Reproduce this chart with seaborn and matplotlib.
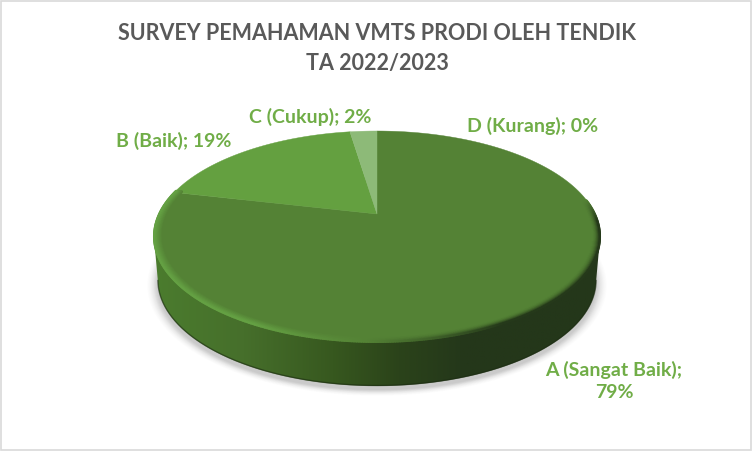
import numpy as np
import matplotlib
matplotlib.use("Agg")
import matplotlib.pyplot as plt
import seaborn as sns
from matplotlib.collections import LineCollection
from matplotlib.colors import LinearSegmentedColormap, to_rgb
from matplotlib.patches import Polygon, Rectangle

# values
categories = ["A (Sangat Baik)", "B (Baik)", "C (Cukup)", "D (Kurang)"]
values = [78.6, 19.0, 2.4, 0.0]
title_lines = ["SURVEY PEMAHAMAN VMTS PRODI OLEH TENDIK", "TA 2022/2023"]

sns.set_theme(style="white")
plt.rcParams["font.family"] = ["Lato", "DejaVu Sans"]

slice_colors = sns.color_palette(["#548235", "#64A040", "#8DBA78", "#B5D3A5"])
label_color = "#70AD47"
title_color = "#595959"

# pie is tilted in perspective, pixel numbers measured on the reference
cx, cy = 377, 214
a, b, k = 218, 100.7, 0.2133
depth = 44


def project(x, y, shift=0.0, squeeze=1.0):
    w = 1 + k * y
    return cx + squeeze * a * x / w, cy - b * y / w + shift


def ring(t_deg, r=1.0, shift=0.0, squeeze=1.0):
    t = np.radians(t_deg)
    return project(r * np.cos(t), r * np.sin(t), shift, squeeze)


fig = plt.figure(figsize=(7.52, 4.51), dpi=100, facecolor="white")
ax = fig.add_axes([0, 0, 1, 1])

# seaborn has no pie, the wedges come from matplotlib and get re-projected
wedges, _ = ax.pie(values, startangle=90, counterclock=False, colors=slice_colors)
angles = [(w.theta1, w.theta2) for w in wedges]
for w in wedges:
    w.remove()

ax.set_aspect("auto")
ax.set_xlim(0, 752)
ax.set_ylim(451, 0)
ax.axis("off")

all_t = np.linspace(0, 360, 721)

# soft shadow under the pie
for grow, alpha in zip(np.linspace(1.045, 1.0, 10), [0.012] * 3 + [0.02] * 3 + [0.03] * 4):
    xs, ys = ring(all_t, 1.0, depth + 4, 0.985 * grow)
    ys = cy + depth + 4 + (ys - cy - depth - 4) * grow
    ax.fill(xs, ys, color="black", alpha=alpha, lw=0, zorder=1)

# side of the pie, gradient clipped to the outline
x_top, y_top = ring(all_t)
x_low, y_low = ring(all_t, 1.0, depth, 0.982)
left_i, right_i = np.argmin(x_top), np.argmax(x_top)
i_l, i_r = np.argmin(x_low), np.argmax(x_low[:-1] if x_low[0] > x_low[-1] else x_low)
low_t = np.linspace(all_t[i_l], 360 + (all_t[i_r] if all_t[i_r] < 90 else all_t[i_r] - 360), 400)
lx, ly = ring(low_t, 1.0, depth, 0.982)
side_pts = np.column_stack([np.r_[x_top[left_i], lx, x_top[right_i]], np.r_[y_top[left_i], ly, y_top[right_i]]])
side_cmap = LinearSegmentedColormap.from_list(
    "side",
    [(0, "#4B7C2E"), (0.2, "#466F2B"), (0.4, "#37581F"), (0.55, "#2B431A"), (0.7, "#24371A"), (1, "#24371A")],
)
grad = np.linspace(0, 1, 256).reshape(1, -1)
img = ax.imshow(grad, cmap=side_cmap, extent=[154, 600, 400, 200], aspect="auto", zorder=2)
clip = Polygon(side_pts, closed=True, transform=ax.transData, fc="none", ec="none")
ax.add_patch(clip)
img.set_clip_path(clip)
ax.set_xlim(0, 752)
ax.set_ylim(451, 0)
ax.plot(lx, ly - 0.5, color="#1C2C12", lw=1.0, alpha=0.6, zorder=2.5)

# top surface
for (t1, t2), color in zip(angles, slice_colors):
    if abs(t2 - t1) < 0.01:
        continue
    t = np.linspace(t1, t2, 300)
    xs, ys = ring(t)
    ax.fill(np.r_[cx, xs], np.r_[cy, ys], color=color, lw=0.3, zorder=3)

# bevel along the front edge: light on the left, dark on the right
base = np.array(to_rgb(slice_colors[0]))
light = np.array(to_rgb("#64A043"))
dark = np.array(to_rgb("#25391A"))
s = np.linspace(-8, 194, 400)
for r, strength in zip(np.linspace(0.968, 0.999, 9), np.linspace(0.0, 1.0, 9)):
    xs, ys = ring(-s, r)
    pts = np.column_stack([xs, ys])
    segs = np.stack([pts[:-1], pts[1:]], axis=1)
    cols = []
    for v in s[:-1]:
        if v < 92:
            c = base + (dark - base) * strength ** 2 * np.clip((92 - v) / 30, 0, 1) * np.clip((v + 8) / 12, 0, 1)
        else:
            c = base + (light - base) * strength * np.clip((v - 92) / 25, 0, 1)
        cols.append(c)
    ax.add_collection(LineCollection(segs, colors=cols, linewidths=1.6, zorder=4, capstyle="round"))

# labels
for line, y in zip(title_lines, [33.5, 63.5]):
    ax.text(377, y, line, ha="center", va="center", fontsize=15.5, fontweight="bold", color=title_color)

label_pos = [(614, 381), (174, 141), (310, 117), (533, 126)]
for cat, val, (lx_, ly_) in zip(categories, values, label_pos):
    text = f"{cat}; {val:.0f}%"
    if cat.startswith("A"):
        text = f"{cat};\n{val:.0f}%"
    ax.text(lx_, ly_, text, ha="center", va="center", fontsize=14, fontweight="bold",
            color=label_color, linespacing=1.35, zorder=6)

# chart frame
ax.add_patch(Rectangle((0.5, 0.5), 750, 449, fc="none", ec="#D9D9D9", lw=1.2, zorder=7))

fig.savefig("out.png", dpi=100)
